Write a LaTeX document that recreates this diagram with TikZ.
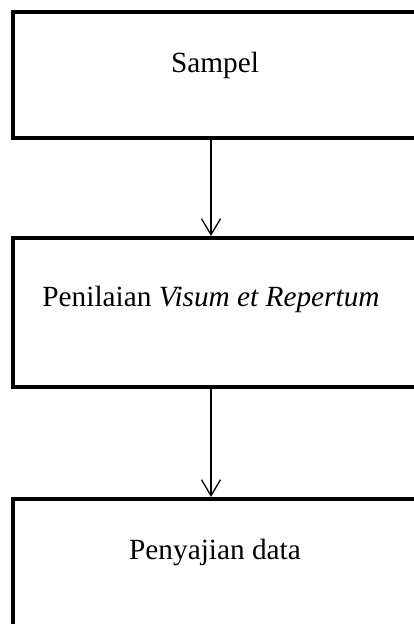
\documentclass[tikz,border=0pt]{standalone}
\usepackage{fontspec}
\setmainfont{Liberation Serif}
\usetikzlibrary{arrows.meta}
\begin{document}
\begin{tikzpicture}[x=1pt,y=1pt,
  boxstyle/.style={draw=black,line width=4pt,rectangle,minimum width=405pt,inner sep=0pt},
  labstyle/.style={anchor=base,inner sep=0pt,font=\fontsize{29.3}{34}\selectfont},
  arr/.style={line width=1.3pt,-{Straight Barb[length=16pt,width=19pt,line width=1.3pt]}}]
\useasboundingbox (0,0) rectangle (414,-624);
\begin{scope}
\clip (0,0) rectangle (414,-624);
\node[boxstyle,minimum height=126.5pt] (b1) at (215.5,-74.75) {};
\node[boxstyle,minimum height=149pt] (b2) at (215.5,-312.5) {};
\node[boxstyle,minimum height=133pt] (b3) at (215.5,-565.5) {};
\end{scope}
\node[labstyle] (t1) at (215,-72) {Sampel};
\node[labstyle] (t2) at (211,-306) {Penilaian \textit{Visum et Repertum}};
\node[labstyle] (t3) at (215,-559) {Penyajian data};
\coordinate (ax) at (211,0);
\draw[arr] (b1.south -| ax) -- (b2.north -| ax);
\draw[arr] (b2.south -| ax) -- (b3.north -| ax);
\end{tikzpicture}
\end{document}
